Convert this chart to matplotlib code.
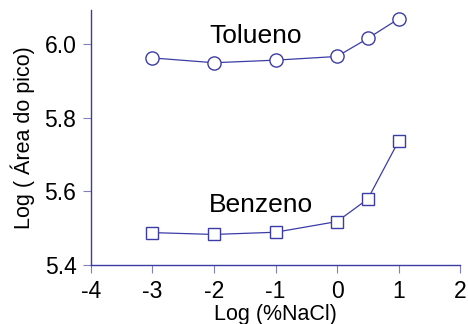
import matplotlib
matplotlib.use("Agg")
import matplotlib.pyplot as plt

plt.rcParams["font.family"] = ["Liberation Sans", "DejaVu Sans"]

x_tol = [-3, -2, -1, 0, 0.5, 1]
y_tol = [5.962, 5.949, 5.956, 5.966, 6.015, 6.068]

x_ben = [-3, -2, -1, 0, 0.5, 1]
y_ben = [5.488, 5.483, 5.489, 5.518, 5.579, 5.736]

xticks = [-4, -3, -2, -1, 0, 1, 2]
yticks = [5.4, 5.6, 5.8, 6.0]

blue = "#3c3ca6"

fig = plt.figure(figsize=(4.68, 3.24), dpi=100)
ax = fig.add_axes([0.1944, 0.182, 0.7886, 0.787])

ax.plot(x_tol, y_tol, color=blue, linewidth=0.9, marker="o",
        markersize=9.5, markerfacecolor="white", markeredgecolor=blue,
        markeredgewidth=1.0)
ax.plot(x_ben, y_ben, color=blue, linewidth=0.9, marker="s",
        markersize=8.5, markerfacecolor="white", markeredgecolor=blue,
        markeredgewidth=1.0)

ax.text(-2.08, 6.003, "Tolueno", fontsize=19, ha="left", va="baseline")
ax.text(-2.08, 5.544, "Benzeno", fontsize=19, ha="left", va="baseline")

ax.set_xlim(-4, 2)
ax.set_ylim(5.4, 6.092)
ax.set_xticks(xticks)
ax.set_xticklabels([str(t) for t in xticks])
ax.set_yticks(yticks)
ax.set_yticklabels([f"{t:.1f}" for t in yticks])

for side in ["top", "right"]:
    ax.spines[side].set_visible(False)
for side in ["left", "bottom"]:
    ax.spines[side].set_color(blue)
    ax.spines[side].set_linewidth(1.0)

ax.tick_params(axis="both", direction="out", length=5.5, width=0.8,
               color="#8080c0", labelsize=16.5, pad=5)

ax.set_xlabel("Log (%NaCl)", fontsize=15.5, labelpad=1)
ax.set_ylabel("Log ( Área do pico)", fontsize=15.5, labelpad=6.5)

fig.savefig("out.png", dpi=100)
